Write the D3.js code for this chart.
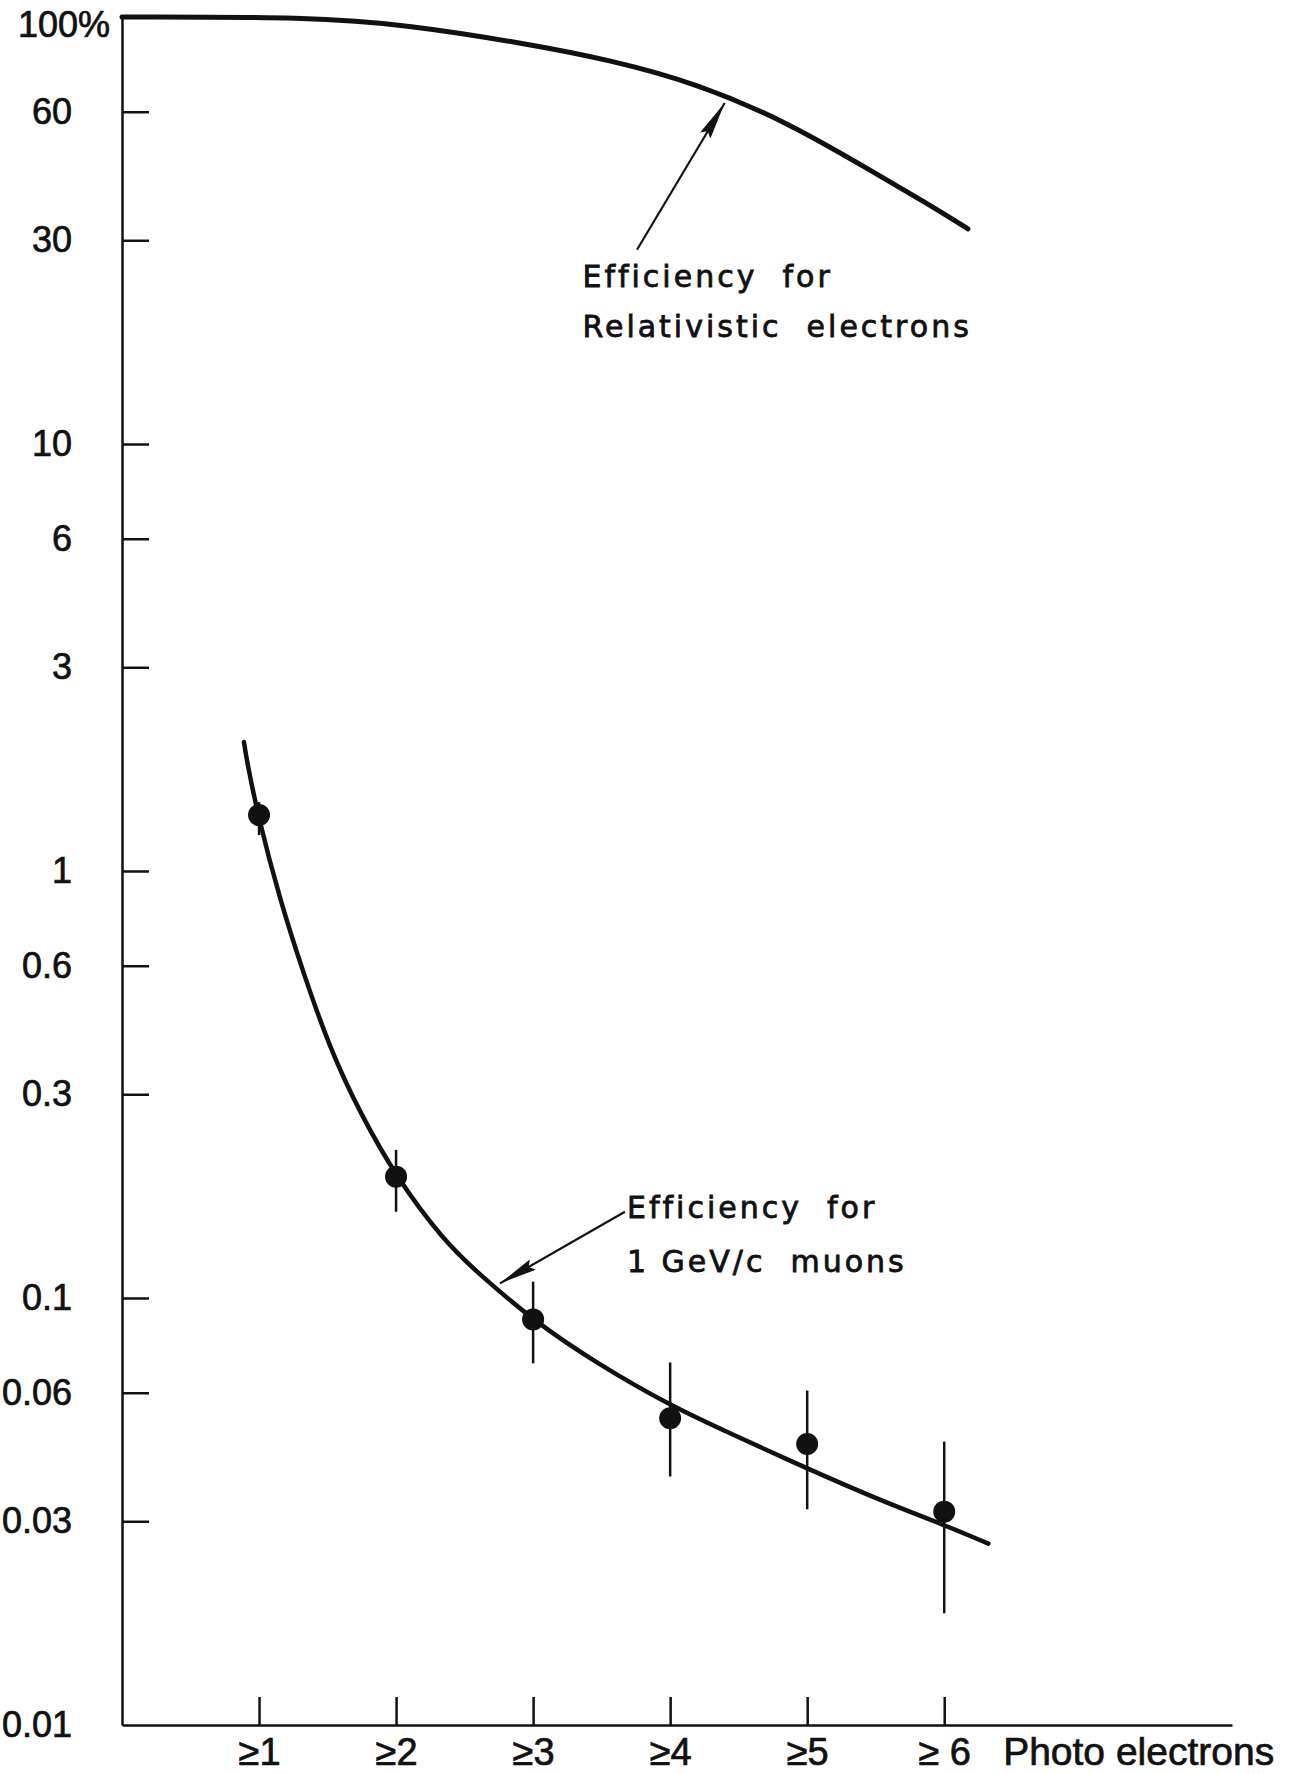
<!DOCTYPE html>
<html>
<head>
<meta charset="utf-8">
<script src="https://cdn.jsdelivr.net/npm/d3@7"></script>
<style>
  body { margin: 0; background: #fff; }
  svg { display: block; }
</style>
</head>
<body>
<div id="chart"></div>
<script>
// photo electron thresholds (x positions) and their labels
var thresholds = [1, 2, 3, 4, 5, 6];
var thresholdLabels = ["≥1", "≥2", "≥3", "≥4", "≥5", "≥ 6"];

// y axis ticks (percent) and labels as printed
var yTicks = [100, 60, 30, 10, 6, 3, 1, 0.6, 0.3, 0.1, 0.06, 0.03, 0.01];
var yTickLabels = ["100%", "60", "30", "10", "6", "3", "1", "0.6", "0.3", "0.1", "0.06", "0.03", "0.01"];

// measured muon efficiency (%) with error bar ends
var muonEff = [1.352, 0.1924, 0.0891, 0.0523, 0.0455, 0.0316];
var muonLow = [1.214, 0.1592, 0.0703, 0.0382, 0.0320, 0.01827];
var muonHigh = [1.45, 0.2222, 0.1092, 0.0706, 0.0607, 0.0461];

// hand drawn curve through the muon points
var muonCurveX = [0.89, 0.91, 0.99, 1.153, 1.321, 1.518, 1.737, 1.999, 2.342, 2.612, 3.014, 3.464, 4.013, 4.437, 5.004, 5.531, 6.0, 6.322];
var muonCurveY = [2.005, 1.82, 1.352, 0.855, 0.58, 0.383, 0.2713, 0.1924, 0.1368, 0.1132, 0.088, 0.0703, 0.0557, 0.0482, 0.0398, 0.0336, 0.0294, 0.0266];

// curve for relativistic electrons
var electronCurveX = [0, 1.372, 2.091, 2.933, 3.565, 4.196, 4.867, 5.458, 5.881, 6.173];
var electronCurveY = [100, 100, 95.8, 86.8, 79.3, 69.9, 56.5, 43.8, 36.5, 31.9];

var W = 1302, H = 1774;
var margin = { top: 17, right: 70, bottom: 49, left: 122 };

var svg = d3
  .select("#chart")
  .append("svg")
  .attr("width", W)
  .attr("height", H);

var x = d3.scaleLinear().domain([0, 8.1]).range([margin.left, W - margin.right]);
var y = d3.scaleLog().domain([0.01, 100]).range([H - margin.bottom, margin.top]);

var ink = "#111";
var tickFont = "'Liberation Sans', Arial, sans-serif";
var noteFont = "'DejaVu Sans', sans-serif";

// Y axis, ticks pointing inside
var yAxis = svg
  .append("g")
  .attr("transform", "translate(" + margin.left + ",0)")
  .call(
    d3.axisLeft(y)
      .tickValues(yTicks)
      .tickSize(-27)
      .tickSizeOuter(0)
      .tickPadding(50)
      .tickFormat(function (d, i) { return yTickLabels[i]; })
  );
yAxis.select(".domain").attr("stroke", ink).attr("stroke-width", 2.5);
yAxis.selectAll(".tick line").attr("stroke", ink).attr("stroke-width", 2.5);
yAxis.selectAll(".tick text")
  .attr("fill", ink)
  .attr("stroke", ink)
  .attr("stroke-width", 0.7)
  .style("font-family", tickFont)
  .style("font-size", "36px");
// the 100% label sticks out to the right
yAxis.selectAll(".tick text")
  .filter(function (d) { return d === 100; })
  .attr("x", -12)
  .attr("dy", "0.55em");
// top tick is covered by the curve
yAxis.selectAll(".tick line").filter(function (d) { return d === 100 || d === 0.01; }).remove();

// X axis
var xAxis = svg
  .append("g")
  .attr("transform", "translate(0," + y(0.01) + ")")
  .call(
    d3.axisBottom(x)
      .tickValues(thresholds)
      .tickSize(-28)
      .tickSizeOuter(0)
      .tickPadding(13)
      .tickFormat(function (d, i) { return thresholdLabels[i]; })
  );
xAxis.select(".domain").attr("stroke", ink).attr("stroke-width", 2.5);
xAxis.selectAll(".tick line").attr("stroke", ink).attr("stroke-width", 2.5);
xAxis.selectAll(".tick text")
  .attr("fill", ink)
  .attr("stroke", ink)
  .attr("stroke-width", 0.7)
  .style("font-family", tickFont)
  .style("font-size", "38px");

svg.append("text")
  .attr("x", x(6.43))
  .attr("y", y(0.01) + 40)
  .attr("fill", ink)
  .attr("stroke", ink)
  .attr("stroke-width", 0.7)
  .style("font-family", tickFont)
  .style("font-size", "39px")
  .text("Photo electrons");

// curves
var line = d3.line()
  .x(function (d) { return x(d[0]); })
  .y(function (d) { return y(d[1]); })
  .curve(d3.curveBasis);

svg.append("path")
  .datum(d3.zip(electronCurveX, electronCurveY))
  .attr("d", line)
  .attr("fill", "none")
  .attr("stroke", ink)
  .attr("stroke-width", 5)
  .attr("stroke-linecap", "round");

svg.append("path")
  .datum(d3.zip(muonCurveX, muonCurveY))
  .attr("d", line)
  .attr("fill", "none")
  .attr("stroke", ink)
  .attr("stroke-width", 4.5)
  .attr("stroke-linecap", "round");

// error bars and points
var pts = thresholds.map(function (t, i) {
  return { x: t, v: muonEff[i], lo: muonLow[i], hi: muonHigh[i] };
});

svg.append("g")
  .selectAll("line")
  .data(pts)
  .enter()
  .append("line")
  .attr("x1", function (d) { return x(d.x); })
  .attr("x2", function (d) { return x(d.x); })
  .attr("y1", function (d) { return y(d.hi); })
  .attr("y2", function (d) { return y(d.lo); })
  .attr("stroke", ink)
  .attr("stroke-width", 2.5);

svg.append("g")
  .selectAll("circle")
  .data(pts)
  .enter()
  .append("circle")
  .attr("cx", function (d) { return x(d.x); })
  .attr("cy", function (d) { return y(d.v); })
  .attr("r", 11)
  .attr("fill", ink);

// arrows pointing at the curves
svg.append("defs")
  .append("marker")
  .attr("id", "head")
  .attr("viewBox", "0 0 38 12")
  .attr("refX", 38)
  .attr("refY", 6)
  .attr("markerWidth", 38)
  .attr("markerHeight", 12)
  .attr("markerUnits", "userSpaceOnUse")
  .attr("orient", "auto")
  .append("path")
  .attr("d", "M0,0 L38,6 L0,12 L5,6 Z")
  .attr("fill", ink);

var arrows = [
  { from: [3.758, 28.5], to: [4.398, 62.9] },
  { from: [3.67, 0.1592], to: [2.758, 0.1082] }
];

svg.append("g")
  .selectAll("line")
  .data(arrows)
  .enter()
  .append("line")
  .attr("x1", function (d) { return x(d.from[0]); })
  .attr("y1", function (d) { return y(d.from[1]); })
  .attr("x2", function (d) { return x(d.to[0]); })
  .attr("y2", function (d) { return y(d.to[1]); })
  .attr("stroke", ink)
  .attr("stroke-width", 2.2)
  .attr("marker-end", "url(#head)");

// notes
var notes = [
  { x: 3.36, v: 23.3, lines: ["Efficiency  for", "Relativistic  electrons"], gap: 50 },
  { x: 3.685, v: 0.154, lines: ["Efficiency  for", "1 GeV/c  muons"], gap: 54 }
];

notes.forEach(function (n) {
  var t = svg.append("text")
    .attr("x", x(n.x))
    .attr("y", y(n.v))
    .attr("fill", ink)
    .attr("stroke", ink)
    .attr("stroke-width", 0.8)
    .style("font-family", noteFont)
    .style("font-size", "30px")
    .style("letter-spacing", "3px")
    .style("white-space", "pre");
  n.lines.forEach(function (s, i) {
    t.append("tspan")
      .attr("x", x(n.x))
      .attr("dy", i === 0 ? 0 : n.gap)
      .text(s);
  });
});
</script>
</body>
</html>
